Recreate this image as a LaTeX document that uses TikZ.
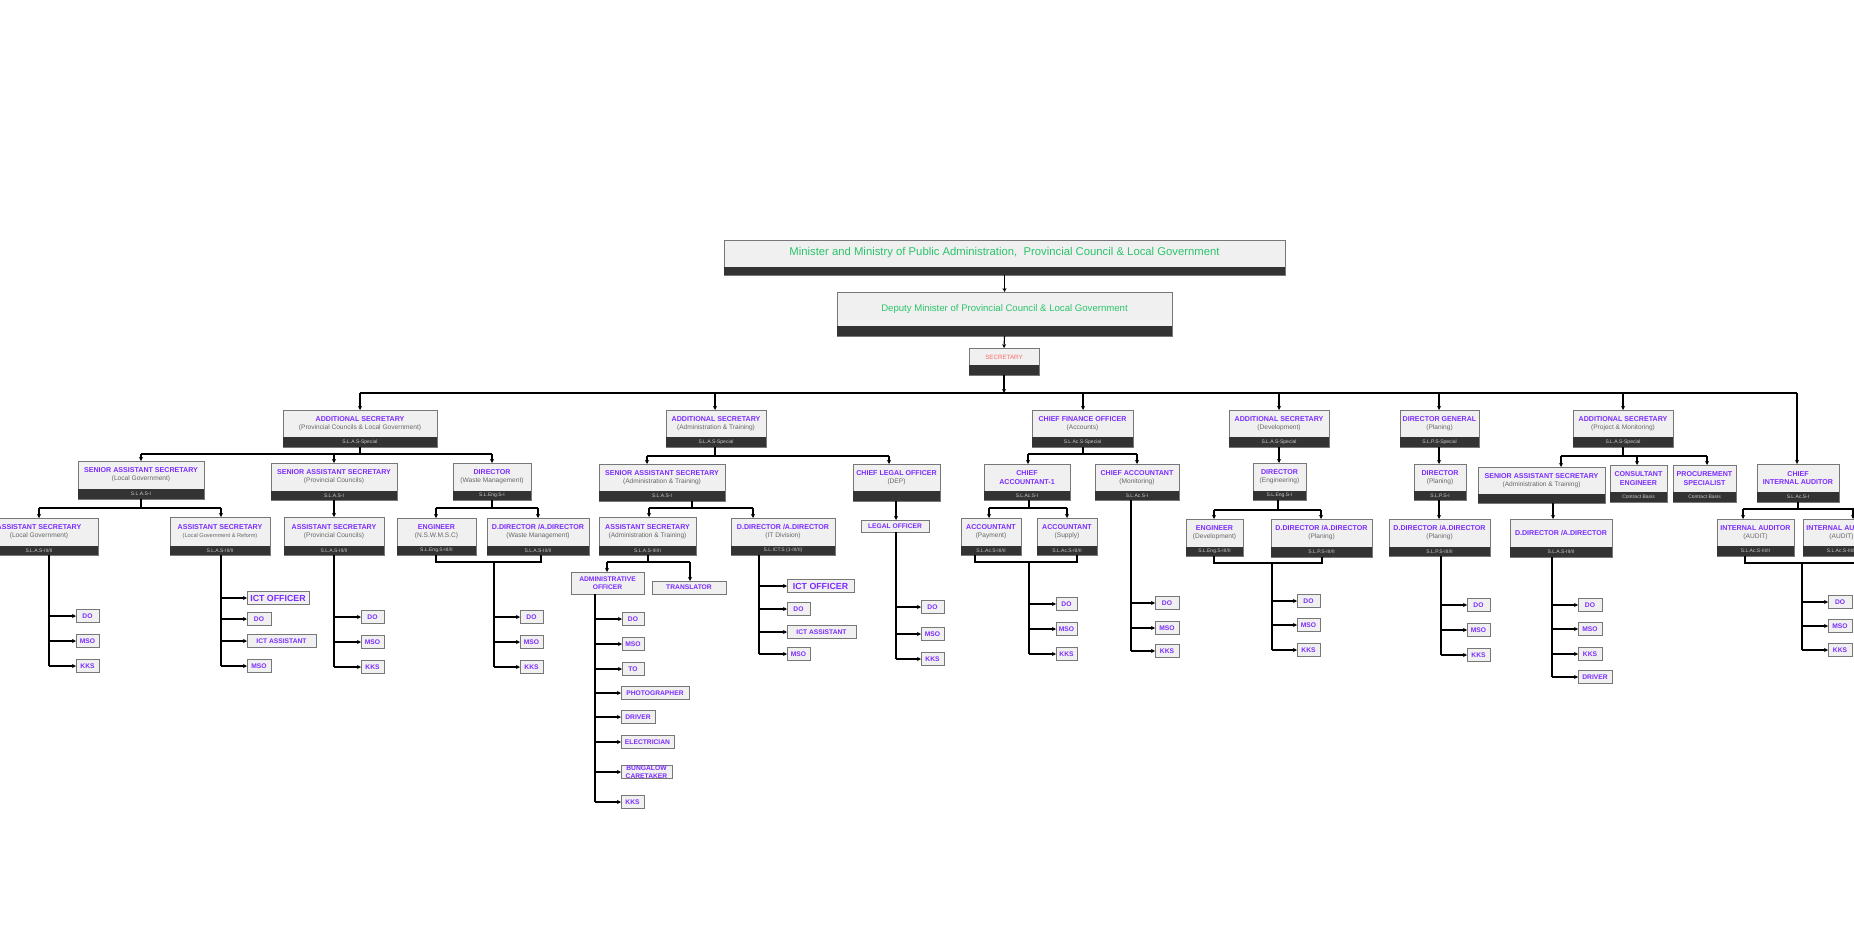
\documentclass[tikz,border=0pt]{standalone}
\usepackage{fontspec}
\setmainfont{Liberation Sans}
\usetikzlibrary{arrows.meta}
\definecolor{pur}{HTML}{7B2CFF}
\definecolor{grn}{HTML}{2BC46B}
\definecolor{sal}{HTML}{FF6B6B}
\definecolor{sub}{HTML}{666666}
\definecolor{dk}{HTML}{333333}
\definecolor{bf}{HTML}{F0F0F0}
\definecolor{bd}{HTML}{777777}
\tikzset{
 box/.style={draw=bd,fill=bf,line width=0.8pt,inner sep=0,outer sep=0},
 ln/.style={line width=1.1pt,black},
 ar/.style={ln,-{Stealth[length=4pt,width=4pt]}},
 tt/.style={align=center,inner sep=0,text=pur,font=\bfseries\fontsize{7.1}{8.2}\selectfont},
 gr/.style={inner sep=0,text=white!80!black,font=\fontsize{5}{5}\selectfont},
 leaf/.style={box,minimum height=13,text=pur,font=\bfseries\fontsize{6.7}{7.4}\selectfont,align=center},
}
\newcommand\Sb[1]{\\{\mdseries\color{sub}\fontsize{6.6}{8.2}\selectfont #1}}
% name x1 y1 x2 y2 ydark text grade
\newcommand\ob[8]{%
 \node[box,anchor=north west,minimum width={#4-#2},minimum height={#5-#3}] (#1) at (#2,#3) {};
 \fill[dk] (#2,#6) rectangle (#4,#5);
 \node[gr] at ({(#2+#4)/2},{(#6+#5)/2}) {#8};
 \node[tt] at ({(#2+#4)/2},{(#3+#6)/2}) {#7};}
% stem-x x1 x2 y text
\newcommand\lf[5]{%
 \node[leaf,anchor=west,minimum width={#3-#2}] (lf) at (#2,#4) {#5};
 \draw[ar] (#1,#4) -- (lf.west);}
\begin{document}
\begin{tikzpicture}[x=1pt,y=-1pt]
\useasboundingbox (0,0) rectangle (1854,937);
\clip (0,0) rectangle (1854,937);
% top
\node[box,anchor=north west,minimum width=561,minimum height=35] (min) at (724,240) {};
\fill[dk] (724,267) rectangle (1285,275);
\node[text=grn,font=\fontsize{11.3}{12}\selectfont] at (1004.5,253) {Minister and Ministry of Public Administration,\ \ Provincial Council \& Local Government};
\node[box,anchor=north west,minimum width=335,minimum height=44] (dep) at (837,292) {};
\fill[dk] (837,326) rectangle (1172,336);
\node[text=grn,font=\fontsize{9.6}{11}\selectfont] at (1004.5,309) {Deputy Minister of Provincial Council \& Local Government};
\node[box,anchor=north west,minimum width=70,minimum height=27] (sec) at (969,348) {};
\fill[dk] (969,365) rectangle (1039,375);
\node[text=sal,font=\fontsize{6.2}{7}\selectfont] at (1004,357) {SECRETARY};
\draw[ar] (1004.5,275) -- (dep.north);
\draw[ar] (1004.5,336) -- (sec.north);
\draw[ar] (1004,375) -- (1004,393);
\draw[ln] (360,393) -- (1797,393);
% level 1
\ob{as1}{283}{410}{437}{447}{437}{ADDITIONAL SECRETARY\Sb{(Provincial Councils \& Local Government)}}{S.L.A.S-Special}
\ob{as2}{666}{410}{766}{447}{437}{ADDITIONAL SECRETARY\Sb{(Administration \& Training)}}{S.L.A.S-Special}
\ob{cfo}{1032}{410}{1133}{447}{437}{CHIEF FINANCE OFFICER\Sb{(Accounts)}}{S.L.Ac.S-Special}
\ob{asd}{1229}{410}{1329}{447}{437}{ADDITIONAL SECRETARY\Sb{(Development)}}{S.L.A.S-Special}
\ob{dg}{1400}{410}{1479}{447}{437}{DIRECTOR GENERAL\Sb{(Planing)}}{S.L.P.S-Special}
\ob{asp}{1573}{410}{1673}{447}{437}{ADDITIONAL SECRETARY\Sb{(Project \& Monitoring)}}{S.L.A.S-Special}
\ob{cia}{1757}{464}{1839}{502}{492}{CHIEF\\INTERNAL AUDITOR}{S.L.Ac.S-I}
\foreach \x/\t in {360/as1,715/as2,1083/cfo,1279/asd,1439/dg,1623/asp,1797/cia}
  \draw[ar] (\x,393) -- (\t.north -| \x,0);
% level 2
\ob{sas1}{78}{461}{204}{499}{489}{SENIOR ASSISTANT SECRETARY\Sb{(Local Government)}}{S.L.A.S-I}
\ob{sas2}{271}{463}{397}{500}{491}{SENIOR ASSISTANT SECRETARY\Sb{(Provincial Councils)}}{S.L.A.S-I}
\ob{dirw}{453}{463}{531}{500}{491}{DIRECTOR\Sb{(Waste Management)}}{S.L.Eng.S-I}
\ob{sas3}{599}{464}{725}{501}{491}{SENIOR ASSISTANT SECRETARY\Sb{(Administration \& Training)}}{S.L.A.S-I}
\ob{clo}{853}{464}{940}{501}{491}{CHIEF LEGAL OFFICER\Sb{(DEP)}}{}
\ob{ca1}{984}{464}{1070}{500}{491}{CHIEF\\ACCOUNTANT-1}{S.L.Ac.S-I}
\ob{cam}{1095}{464}{1179}{500}{491}{CHIEF ACCOUNTANT\Sb{(Monitoring)}}{S.L.Ac.S-I}
\ob{dire}{1253}{463}{1306}{500}{491}{DIRECTOR\Sb{(Engineering)}}{S.L.Eng.S-I}
\ob{dirp}{1414}{464}{1466}{500}{491}{DIRECTOR\Sb{(Planing)}}{S.L.P.S-I}
\ob{sas4}{1478}{467}{1605}{503}{494}{SENIOR ASSISTANT SECRETARY\Sb{(Administration \& Training)}}{}
\ob{ce}{1610}{465}{1667}{502}{492}{CONSULTANT\\ENGINEER}{Contract Basis}
\ob{ps}{1673}{465}{1736}{502}{492}{PROCUREMENT\\SPECIALIST}{Contract Basis}
% level 3
\ob{aslg}{-20}{518}{98}{555}{546}{ASSISTANT SECRETARY\Sb{(Local Government)}}{S.L.A.S-III/II}
\ob{aslgr}{170}{517}{270}{555}{546}{ASSISTANT SECRETARY\\{\mdseries\color{sub}\fontsize{5.6}{8}\selectfont(Local Government \& Reform)}}{S.L.A.S-III/II}
\ob{aspc}{284}{517}{384}{555}{546}{ASSISTANT SECRETARY\Sb{(Provincial Councils)}}{S.L.A.S-III/II}
\ob{eng1}{397}{518}{476}{555}{546}{ENGINEER\Sb{(N.S.W.M.S.C)}}{S.L.Eng.S-III/II}
\ob{ddw}{487}{518}{589}{555}{546}{D.DIRECTOR /A.DIRECTOR\Sb{(Waste Management)}}{S.L.A.S-III/II}
\ob{asat}{599}{517}{696}{555}{546}{ASSISTANT SECRETARY\Sb{(Administration \& Training)}}{S.L.A.S-III/II}
\ob{ddit}{731}{518}{835}{555}{546}{D.DIRECTOR /A.DIRECTOR\Sb{(IT Division)}}{S.L.ICT.S (1-III/II)}
\ob{accp}{961}{518}{1021}{555}{546}{ACCOUNTANT\Sb{(Payment)}}{S.L.Ac.S-III/II}
\ob{accs}{1037}{518}{1097}{555}{546}{ACCOUNTANT\Sb{(Supply)}}{S.L.Ac.S-III/II}
\ob{engd}{1186}{519}{1243}{556}{547}{ENGINEER\Sb{(Development)}}{S.L.Eng.S-III/II}
\ob{ddp1}{1271}{519}{1372}{557}{547}{D.DIRECTOR /A.DIRECTOR\Sb{(Planing)}}{S.L.P.S-III/II}
\ob{ddp2}{1389}{519}{1490}{556}{547}{D.DIRECTOR /A.DIRECTOR\Sb{(Planing)}}{S.L.P.S-III/II}
\ob{ddp3}{1510}{519}{1612}{557}{547}{D.DIRECTOR /A.DIRECTOR}{S.L.A.S-III/II}
\ob{ia1}{1717}{519}{1794}{556}{546}{INTERNAL AUDITOR\Sb{(AUDIT)}}{S.L.Ac.S-III/II}
\ob{ia2}{1803}{519}{1880}{556}{546}{INTERNAL AUDITOR\Sb{(AUDIT)}}{S.L.Ac.S-III/II}
% small boxes
\node[leaf,anchor=north west,minimum width=73,minimum height=22] (ao) at (571,572) {ADMINISTRATIVE\\OFFICER};
\node[leaf,anchor=north west,minimum width=74,minimum height=13] (tr) at (652,581) {TRANSLATOR};
\node[leaf,anchor=north west,minimum width=68,minimum height=12] (lo) at (861,520) {LEGAL OFFICER};
% connectors AS1
\draw[ln] (360,447) -- (360,454); \draw[ln] (141,454) -- (492,454);
\draw[ar] (141,454) -- (sas1.north -| 141,0);
\draw[ar] (334,454) -- (sas2.north -| 334,0);
\draw[ar] (492,454) -- (dirw.north -| 492,0);
\draw[ln] (141,499) -- (141,508); \draw[ln] (39,508) -- (221,508);
\draw[ar] (39,508) -- (aslg.north -| 39,0);
\draw[ar] (221,508) -- (aslgr.north -| 221,0);
\draw[ar] (334,500) -- (aspc.north -| 334,0);
\draw[ln] (492,500) -- (492,508); \draw[ln] (436,508) -- (538,508);
\draw[ar] (436,508) -- (eng1.north -| 436,0);
\draw[ar] (538,508) -- (ddw.north -| 538,0);
\draw[ln] (436,555) -- (436,562) -- (541,562) -- (541,555);
\draw[ln] (49,555) -- (49,666);
\draw[ln] (221,555) -- (221,666);
\draw[ln] (334,555) -- (334,667);
\draw[ln] (494,562) -- (494,667);
% AS2
\draw[ln] (715,447) -- (715,456); \draw[ln] (647,456) -- (889,456);
\draw[ar] (647,456) -- (sas3.north -| 647,0);
\draw[ar] (889,456) -- (clo.north -| 889,0);
\draw[ln] (692,501) -- (692,508); \draw[ln] (649,508) -- (753,508);
\draw[ar] (649,508) -- (asat.north -| 649,0);
\draw[ar] (753,508) -- (ddit.north -| 753,0);
\draw[ln] (648,555) -- (648,562); \draw[ln] (607,562) -- (690,562);
\draw[ar] (607,562) -- (ao.north -| 607,0);
\draw[ar] (690,562) -- (tr.north -| 690,0);
\draw[ln] (595,594) -- (595,802);
\draw[ln] (759,555) -- (759,654);
\draw[ar] (896,501) -- (lo.north -| 896,0);
\draw[ln] (896,532) -- (896,659);
% CFO
\draw[ln] (1083,447) -- (1083,454); \draw[ln] (1028,454) -- (1137,454);
\draw[ar] (1028,454) -- (ca1.north -| 1028,0);
\draw[ar] (1137,454) -- (cam.north -| 1137,0);
\draw[ln] (1029,500) -- (1029,508); \draw[ln] (989,508) -- (1067,508);
\draw[ar] (989,508) -- (accp.north -| 989,0);
\draw[ar] (1067,508) -- (accs.north -| 1067,0);
\draw[ln] (975,555) -- (975,562) -- (1077,562) -- (1077,555);
\draw[ln] (1029,562) -- (1029,654);
\draw[ln] (1131,500) -- (1131,651);
% Dev
\draw[ar] (1279,447) -- (dire.north -| 1279,0);
\draw[ln] (1278,500) -- (1278,510); \draw[ln] (1214,510) -- (1321,510);
\draw[ar] (1214,510) -- (engd.north -| 1214,0);
\draw[ar] (1321,510) -- (ddp1.north -| 1321,0);
\draw[ln] (1214,556) -- (1214,563) -- (1322,563) -- (1322,557);
\draw[ln] (1272,563) -- (1272,650);
% DG
\draw[ar] (1439,447) -- (dirp.north -| 1439,0);
\draw[ar] (1439,500) -- (ddp2.north -| 1439,0);
\draw[ln] (1441,556) -- (1441,655);
% Project
\draw[ln] (1623,447) -- (1623,456); \draw[ln] (1561,456) -- (1707,456);
\draw[ar] (1561,456) -- (sas4.north -| 1561,0);
\draw[ar] (1637,456) -- (ce.north -| 1637,0);
\draw[ar] (1707,456) -- (ps.north -| 1707,0);
\draw[ar] (1553,503) -- (ddp3.north -| 1553,0);
\draw[ln] (1552,557) -- (1552,677);
% CIA
\draw[ln] (1798,502) -- (1798,509); \draw[ln] (1743,509) -- (1870,509);
\draw[ar] (1743,509) -- (ia1.north -| 1743,0);
\draw[ar] (1853,509) -- (ia2.north -| 1853,0);
\draw[ln] (1745,556) -- (1745,563) -- (1870,563);
\draw[ln] (1802,563) -- (1802,650);
% leaves
\foreach \y/\t in {616/DO,641/MSO,666/KKS} {\lf{49}{76}{99}{\y}{\t}}
\lf{221}{247}{309}{598}{\fontsize{8.8}{9}\selectfont ICT OFFICER}
\lf{221}{247}{271}{619}{DO}
\lf{221}{247}{316}{641}{ICT ASSISTANT}
\lf{221}{247}{271}{666}{MSO}
\foreach \y/\t in {617/DO,642/MSO,667/KKS} {\lf{334}{361}{384}{\y}{\t}}
\foreach \y/\t in {617/DO,642/MSO,667/KKS} {\lf{494}{520}{543}{\y}{\t}}
\lf{595}{622}{644}{619}{DO}
\lf{595}{622}{644}{644}{MSO}
\lf{595}{622}{644}{669}{TO}
\lf{595}{621}{689}{693}{PHOTOGRAPHER}
\lf{595}{621}{655}{717}{DRIVER}
\lf{595}{621}{674}{742}{ELECTRICIAN}
\lf{595}{621}{672}{772}{BUNGALOW\\CARETAKER}
\lf{595}{621}{644}{802}{KKS}
\lf{759}{787}{854}{586}{\fontsize{8.8}{9}\selectfont ICT OFFICER}
\lf{759}{787}{810}{609}{DO}
\lf{759}{787}{856}{632}{ICT ASSISTANT}
\lf{759}{787}{810}{654}{MSO}
\foreach \y/\t in {607/DO,634/MSO,659/KKS} {\lf{896}{921}{944}{\y}{\t}}
\foreach \y/\t in {604/DO,629/MSO,654/KKS} {\lf{1029}{1056}{1077}{\y}{\t}}
\foreach \y/\t in {603/DO,628/MSO,651/KKS} {\lf{1131}{1155}{1179}{\y}{\t}}
\foreach \y/\t in {601/DO,625/MSO,650/KKS} {\lf{1272}{1297}{1320}{\y}{\t}}
\foreach \y/\t in {605/DO,630/MSO,655/KKS} {\lf{1441}{1467}{1490}{\y}{\t}}
\foreach \y/\t in {605/DO,629/MSO,654/KKS} {\lf{1552}{1578}{1602}{\y}{\t}}
\lf{1552}{1578}{1612}{677}{DRIVER}
\foreach \y/\t in {602/DO,626/MSO,650/KKS} {\lf{1802}{1828}{1852}{\y}{\t}}
\end{tikzpicture}
\end{document}
